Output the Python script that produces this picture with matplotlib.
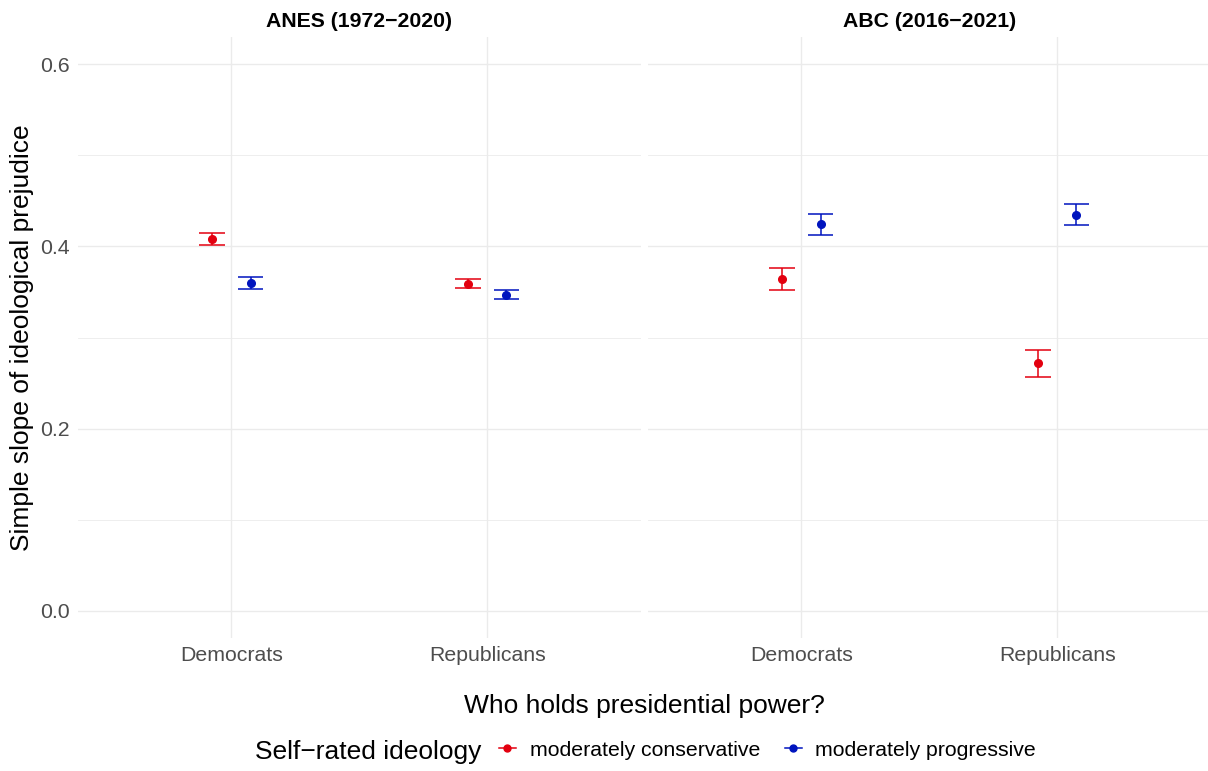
import matplotlib
matplotlib.use("Agg")
import matplotlib.pyplot as plt
from matplotlib.lines import Line2D
import numpy as np

plt.rcParams['font.family'] = ['Liberation Sans', 'DejaVu Sans']

# Estimates of the simple slope, by survey, party in power and ideology
panels = ["ANES (1972\u22122020)", "ABC (2016\u22122021)"]
parties = ["Democrats", "Republicans"]
groups = ["moderately conservative", "moderately progressive"]
colors = ["#E3000F", "#0014BE"]

# estimate, lower bound, upper bound: [panel][group][party]
est = {
    "ANES": {"cons": [0.408, 0.359], "prog": [0.360, 0.347]},
    "ABC": {"cons": [0.364, 0.272], "prog": [0.4245, 0.435]},
}
lower = {
    "ANES": {"cons": [0.402, 0.354], "prog": [0.3535, 0.342]},
    "ABC": {"cons": [0.352, 0.257], "prog": [0.413, 0.4235]},
}
upper = {
    "ANES": {"cons": [0.415, 0.364], "prog": [0.3667, 0.3525]},
    "ABC": {"cons": [0.376, 0.2866], "prog": [0.436, 0.447]},
}
panel_keys = ["ANES", "ABC"]
group_keys = ["cons", "prog"]

W, H = 1208, 771
fig = plt.figure(figsize=(W / 100, H / 100), dpi=100)

grid_c = "#EBEBEB"
text_c = "#4D4D4D"
dodge = 0.075
cap = 0.05

ax_lefts = [78, 648]
ax_w = 562.7
ax_top, ax_bot = 37.0, 638.0
axes = []
for i, pk in enumerate(panel_keys):
    ax = fig.add_axes([ax_lefts[i] / W, (H - ax_bot) / H, ax_w / W, (ax_bot - ax_top) / H])
    axes.append(ax)
    ax.set_xlim(0.4, 2.6)
    ax.set_ylim(-0.03, 0.63)
    ax.set_yticks([0.0, 0.2, 0.4, 0.6])
    ax.set_yticks([0.1, 0.3, 0.5], minor=True)
    ax.set_xticks([1, 2])
    ax.set_xticklabels(parties)
    ax.grid(True, which="major", color=grid_c, linewidth=1.0)
    ax.grid(True, which="minor", axis="y", color=grid_c, linewidth=0.6)
    ax.set_axisbelow(True)
    for s in ax.spines.values():
        s.set_visible(False)
    ax.tick_params(which="both", length=0, labelsize=15.3, labelcolor=text_c, pad=6)
    if i > 0:
        ax.tick_params(axis="y", labelleft=False)
    ax.set_title(panels[i], fontsize=15.3, fontweight="bold", pad=7)

    x = np.arange(1, len(parties) + 1)
    for g, gk in enumerate(group_keys):
        xs = x + (-dodge if g == 0 else dodge)
        e = np.array(est[pk][gk])
        lo = np.array(lower[pk][gk])
        hi = np.array(upper[pk][gk])
        ax.errorbar(xs, e, yerr=[e - lo, hi - e], fmt="none", ecolor=colors[g],
                    elinewidth=1.1, capsize=0, zorder=3)
        ax.hlines(lo, xs - cap, xs + cap, colors=colors[g], linewidth=1.1, zorder=3)
        ax.hlines(hi, xs - cap, xs + cap, colors=colors[g], linewidth=1.1, zorder=3)
        ax.plot(xs, e, "o", color=colors[g], markersize=5.5, zorder=4)

fig.text(22 / W, 1 - 338 / H, "Simple slope of ideological prejudice", rotation=90,
         ha="center", va="center", fontsize=19)
fig.text(644 / W, 1 - 706 / H, "Who holds presidential power?", ha="center",
         va="center", fontsize=19)

# Legend: title on the left, keys laid out horizontally
fig.text(255 / W, 1 - 752 / H, "Self\u2212rated ideology", ha="left", va="center",
         fontsize=19)
handles = [Line2D([0], [0], color=c, marker="o", markersize=5, linewidth=1.1)
           for c in colors]
leg = fig.legend(handles, groups, loc="center left", bbox_to_anchor=(499 / W, 1 - 750 / H),
                 ncol=2, frameon=False, fontsize=15.3, handlelength=0.8,
                 handletextpad=0.65, columnspacing=1.15, borderaxespad=0, borderpad=0)

fig.savefig("out.png", dpi=100, facecolor="white")
